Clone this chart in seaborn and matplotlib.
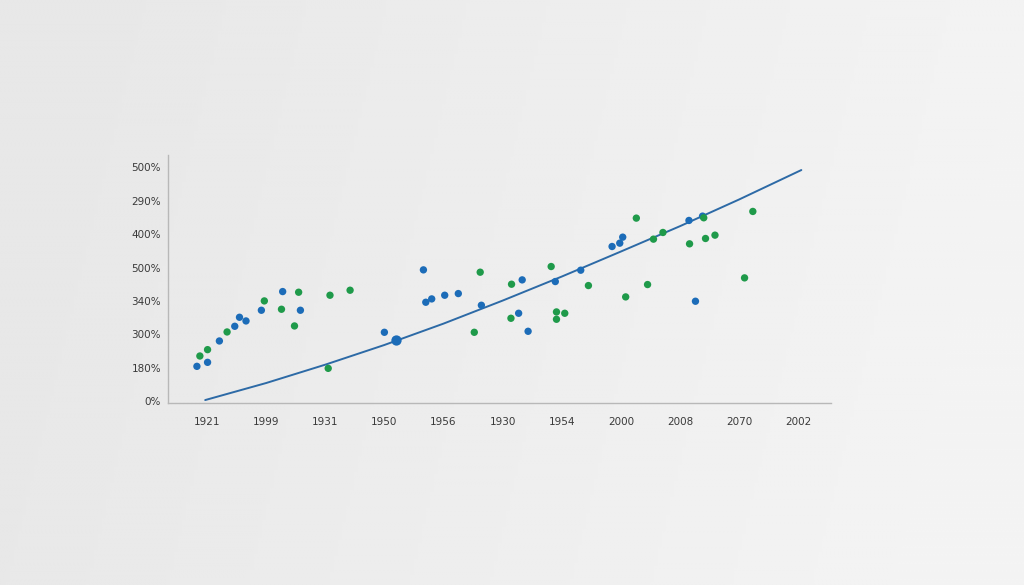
import seaborn as sns
import matplotlib.pyplot as plt
import pandas as pd
import numpy as np

# tick labels as they appear on the chart
x_labels = ["1921", "1999", "1931", "1950", "1956", "1930", "1954", "2000", "2008", "2070", "2002"]
y_labels = ["0%", "180%", "300%", "340%", "500%", "400%", "290%", "500%"]

# blue series (position in tick units)
blue_x = [-0.17, 0.01, 0.21, 0.47, 0.55, 0.66, 0.92, 1.28, 1.58, 3.00, 3.19, 3.66, 3.70, 3.80,
          4.02, 4.25, 4.64, 5.27, 5.33, 5.43, 5.89, 6.32, 6.85, 6.98, 7.03, 8.15, 8.26, 8.38]
blue_y = [1.04, 1.16, 1.80, 2.24, 2.51, 2.40, 2.72, 3.28, 2.72, 2.06, 1.83, 3.93, 2.96, 3.06,
          3.17, 3.22, 2.87, 2.63, 3.63, 2.09, 3.58, 3.92, 4.63, 4.73, 4.91, 5.41, 2.99, 5.54]

# green series
green_x = [-0.12, 0.01, 0.34, 0.97, 1.26, 1.55, 1.48, 2.08, 2.42, 2.05, 4.62, 4.52, 5.15, 5.14,
           5.82, 5.91, 5.91, 6.05, 6.45, 7.26, 7.08, 7.45, 7.55, 7.71, 8.16, 8.40, 8.43, 8.59,
           9.09, 9.23]
green_y = [1.35, 1.54, 2.07, 3.00, 2.75, 3.26, 2.25, 3.17, 3.32, 0.98, 3.86, 2.06, 3.50, 2.48,
           4.03, 2.67, 2.45, 2.63, 3.46, 5.48, 3.12, 3.49, 4.85, 5.05, 4.71, 5.49, 4.87, 4.97,
           3.69, 5.68]

# trend curve
trend_x = [-0.03, 1, 2, 3, 4, 5, 6, 7, 8, 9, 10.05]
trend_y = [0.03, 0.54, 1.09, 1.68, 2.32, 3.01, 3.73, 4.48, 5.24, 6.04, 6.92]

pts = pd.DataFrame({
    "x": blue_x + green_x,
    "y": blue_y + green_y,
    "series": ["blue"] * len(blue_x) + ["green"] * len(green_x),
})
trend = pd.DataFrame({"x": trend_x, "y": trend_y})

sns.set_style("white")
fig = plt.figure(figsize=(10.24, 5.85), dpi=100)

# soft gray background
bg = fig.add_axes([0, 0, 1, 1], zorder=0)
gx = np.linspace(0, 1, 256)
gy = np.linspace(0, 1, 256)
X, Y = np.meshgrid(gx, gy)
shade = 0.91 + 0.045 * np.clip(X * 1.1 - 0.15 + 0.15 * Y, 0, 1)
bg.imshow(shade, cmap="gray", vmin=0, vmax=1, aspect="auto", extent=[0, 1, 0, 1])
bg.axis("off")

ax = fig.add_axes([0.164, 0.311, 0.648, 0.424], zorder=1)
ax.patch.set_alpha(0)

sns.lineplot(data=trend, x="x", y="y", color="#2d6aa6", linewidth=1.4, ax=ax, zorder=2)
sns.scatterplot(data=pts, x="x", y="y", hue="series",
                palette={"blue": "#1c6cb8", "green": "#1f9a4a"},
                s=28, linewidth=0, legend=False, ax=ax, zorder=3)
ax.scatter([blue_x[10]], [blue_y[10]], s=55, color="#1c6cb8", linewidth=0, zorder=3)

ax.set_xlim(-0.66, 10.56)
ax.set_ylim(-0.06, 7.37)
ax.set_xticks(range(len(x_labels)))
ax.set_xticklabels(x_labels)
ax.set_yticks(range(len(y_labels)))
ax.set_yticklabels(y_labels)
ax.set_xlabel("")
ax.set_ylabel("")

for side in ["top", "right"]:
    ax.spines[side].set_visible(False)
for side in ["left", "bottom"]:
    ax.spines[side].set_color("#b8b8b8")
    ax.spines[side].set_linewidth(1.0)

ax.tick_params(axis="x", length=3, color="#b8b8b8", pad=7, labelsize=7.5, labelcolor="#3a3a3a")
ax.tick_params(axis="y", length=0, pad=5, labelsize=7.5, labelcolor="#3a3a3a")
ax.grid(False)

fig.savefig("out.png", dpi=100)
